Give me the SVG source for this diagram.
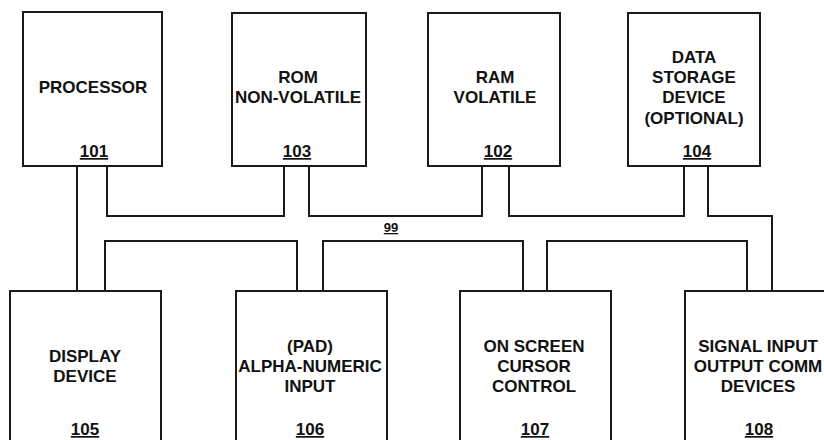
<svg xmlns="http://www.w3.org/2000/svg" width="824" height="440" viewBox="0 0 824 440">
<style>
.box{fill:#fff;stroke:#1a1a1a;stroke-width:2}
.bus{fill:none;stroke:#1a1a1a;stroke-width:2}
text{font-family:"Liberation Sans",Arial,sans-serif;font-weight:bold;font-size:17px;fill:#111;text-anchor:middle}
.num{text-decoration:underline}
</style>
<rect width="824" height="440" fill="#fff"/>
<g id="connectors">
<path class="bus" d="M77,166 V291"/>
<path class="bus" d="M107,166 V216 H284 V166"/>
<path class="bus" d="M309,166 V216 H482 V166"/>
<path class="bus" d="M509,166 V216 H684 V166"/>
<path class="bus" d="M708,166 V216 H772 V291"/>
<path class="bus" d="M105,291 V241 H297 V291"/>
<path class="bus" d="M323,291 V241 H523 V291"/>
<path class="bus" d="M547,291 V241 H747 V291"/>
<text class="num" x="391" y="232" style="font-size:13px">99</text>
</g>
<g id="n101">
<rect class="box" x="23" y="12" width="139" height="154"/>
<text x="93" y="93">PROCESSOR</text>
<text class="num" x="94" y="157">101</text>
</g>
<g id="n103">
<rect class="box" x="232" y="13" width="134" height="153"/>
<text x="298" y="83">ROM</text>
<text x="298" y="103">NON-VOLATILE</text>
<text class="num" x="297" y="157">103</text>
</g>
<g id="n102">
<rect class="box" x="428" y="13" width="132" height="153"/>
<text x="495" y="83">RAM</text>
<text x="495" y="103">VOLATILE</text>
<text class="num" x="498" y="157">102</text>
</g>
<g id="n104">
<rect class="box" x="628" y="13" width="132" height="153"/>
<text x="694" y="63">DATA</text>
<text x="694" y="83">STORAGE</text>
<text x="694" y="103">DEVICE</text>
<text x="694" y="124">(OPTIONAL)</text>
<text class="num" x="697" y="157">104</text>
</g>
<g id="n105">
<rect class="box" x="10" y="291" width="151" height="170"/>
<text x="85" y="362">DISPLAY</text>
<text x="85" y="382">DEVICE</text>
<text class="num" x="85" y="435">105</text>
</g>
<g id="n106">
<rect class="box" x="236" y="291" width="151" height="170"/>
<text x="310" y="352">(PAD)</text>
<text x="310" y="372">ALPHA-NUMERIC</text>
<text x="310" y="392">INPUT</text>
<text class="num" x="310" y="435">106</text>
</g>
<g id="n107">
<rect class="box" x="460" y="291" width="151" height="170"/>
<text x="534" y="352">ON SCREEN</text>
<text x="534" y="372">CURSOR</text>
<text x="534" y="392">CONTROL</text>
<text class="num" x="535" y="435">107</text>
</g>
<g id="n108">
<rect class="box" x="685" y="291" width="160" height="170"/>
<text x="758" y="352">SIGNAL INPUT</text>
<text x="758" y="372">OUTPUT COMM</text>
<text x="758" y="392">DEVICES</text>
<text class="num" x="759" y="435">108</text>
</g>
</svg>
